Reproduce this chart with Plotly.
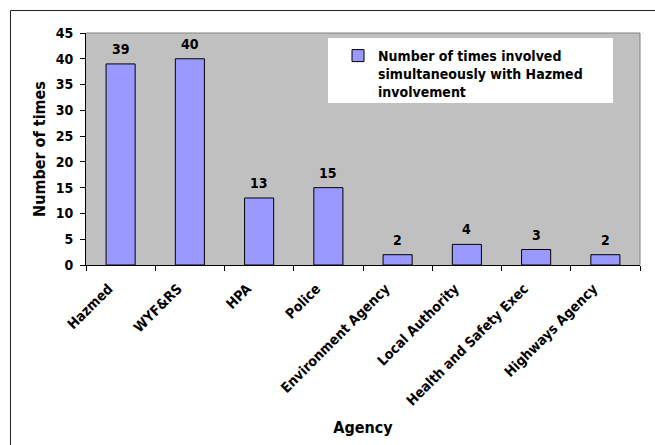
import plotly.graph_objects as go

categories = ["Hazmed", "WYF&RS", "HPA", "Police", "Environment Agency",
              "Local Authority", "Health and Safety Exec", "Highways Agency"]
values = [39, 40, 13, 15, 2, 4, 3, 2]
series_name = "Number of times involved<br>simultaneously with Hazmed<br>involvement"
y_ticks = [0, 5, 10, 15, 20, 25, 30, 35, 40, 45]

FONT = "DejaVu Sans Condensed"
WEIGHT = "bold"
W, H = 655, 445
L, R, T, B = 86, 640, 33, 265  # plot area in pixels

def px(x):
    return (x - L) / (R - L)

def py(y):
    return (B - y) / (B - T)

fig = go.Figure()
fig.add_trace(go.Bar(
    x=categories, y=values, name=series_name,
    marker=dict(color="#9999FF", line=dict(color="#000000", width=1)),
    cliponaxis=False, showlegend=True,
))

for c, v in zip(categories, values):
    fig.add_annotation(x=c, y=v, text=str(v), showarrow=False,
                       xanchor="center", yanchor="bottom", yshift=5,
                       font=dict(family=FONT, size=14, color="#000000", weight=WEIGHT))

fig.update_layout(
    width=W, height=H,
    margin=dict(l=L, r=W - R, t=T, b=H - B, pad=0),
    paper_bgcolor="#FFFFFF", plot_bgcolor="#C0C0C0",
    font=dict(family=FONT, size=14, color="#000000", weight=WEIGHT),
    bargap=0.58,
    legend=dict(x=px(338), y=py(40), xanchor="left", yanchor="top",
                bgcolor="rgba(0,0,0,0)", borderwidth=0, valign="top",
                font=dict(family=FONT, size=14, color="#000000", weight=WEIGHT)),
    xaxis=dict(
        type="category", tickangle=-45, tickson="boundaries",
        ticks="outside", ticklen=5, tickcolor="#000000", tickwidth=1,
        ticklabelshift=-12, ticklabelstandoff=9,
        showline=True, linecolor="#000000", linewidth=1,
        showgrid=False, automargin=False,
        tickfont=dict(family=FONT, size=14, weight=WEIGHT),
        title=dict(text="Agency", font=dict(family=FONT, size=16, weight=WEIGHT), standoff=14),
    ),
    yaxis=dict(
        range=[0, 45], tickvals=y_ticks, ticks="outside", ticklen=5,
        tickcolor="#000000", tickwidth=1, ticklabelstandoff=4,
        showline=True, linecolor="#000000", linewidth=1,
        showgrid=False, zeroline=False, automargin=False,
        tickfont=dict(family=FONT, size=14, weight=WEIGHT),
        title=dict(text="Number of times", font=dict(family=FONT, size=16, weight=WEIGHT), standoff=6),
    ),
    shapes=[
        dict(type="rect", xref="paper", yref="paper", x0=px(328), x1=px(613),
             y0=py(103), y1=py(38), fillcolor="#FFFFFF", line=dict(width=0), layer="above"),
        dict(type="line", xref="paper", yref="paper", x0=0, x1=1, y0=1, y1=1,
             line=dict(color="#808080", width=1)),
        dict(type="line", xref="paper", yref="paper", x0=1, x1=1, y0=0, y1=1,
             line=dict(color="#808080", width=1)),
        dict(type="rect", xref="paper", yref="paper", x0=px(10.5), x1=px(700),
             y0=py(500), y1=py(10.5), fillcolor="rgba(0,0,0,0)",
             line=dict(color="#222222", width=1)),
    ],
)

fig.write_html("out.html")
